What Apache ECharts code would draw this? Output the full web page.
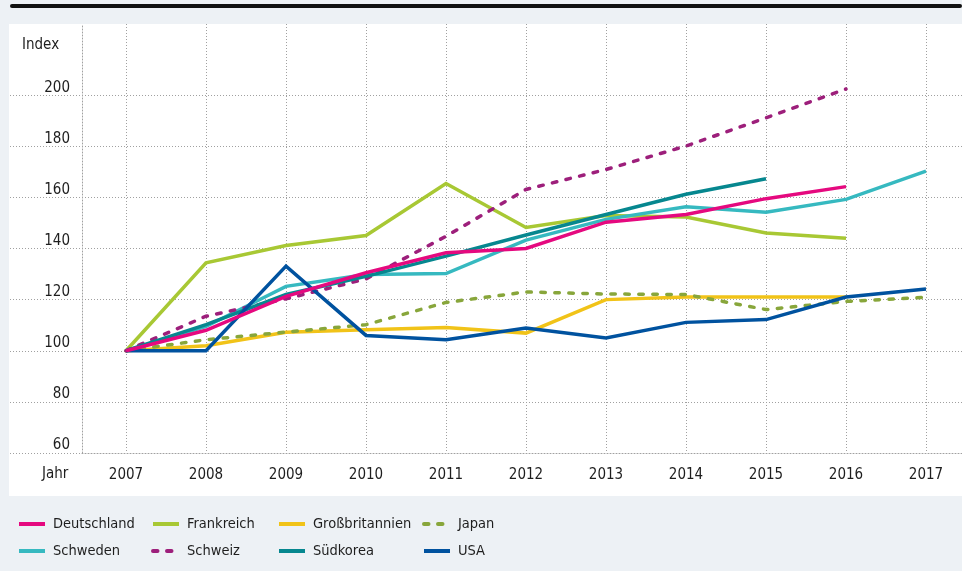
<!DOCTYPE html>
<html>
<head>
<meta charset="utf-8">
<script src="https://cdn.jsdelivr.net/npm/echarts@6/dist/echarts.min.js"></script>
<style>
html,body{margin:0;padding:0;background:#edf1f5;}
#c{width:962px;height:571px;}
</style>
</head>
<body>
<div id="c"></div>
<script>
const years = ['2007','2008','2009','2010','2011','2012','2013','2014','2015','2016','2017'];
const yTicks = [60, 80, 100, 120, 140, 160, 180, 200, 220];
const deutschland     = [100, 108, 121.3, 130.5, 138.3, 140, 150.3, 153.3, 159.5, 164.2, null];
const frankreich      = [100, 134.4, 141.2, 145.1, 165.4, 148.2, 152.9, 152.3, 146.1, 144.0, null];
const grossbritannien = [100, 102, 107.2, 108.2, 109.1, 106.9, 120, 121, 121, 121, null];
const japan           = [100, 104.3, 107.3, 110.2, 118.9, 123, 122.2, 122, 116.1, 119.3, 120.9];
const schweden        = [100, 109.5, 125.2, 129.8, 130.2, 143.3, 151.4, 156.3, 154.2, 159.2, 170.3];
const schweiz         = [100, 113.5, 120.3, 128.1, 144.8, 163.1, 170.9, 180.1, 191.1, 202.4, null];
const suedkorea       = [100, 110.2, 122, 129.1, 137, 145.3, 153.3, 161.2, 167.3, null, null];
const usa             = [100, 100, 133.1, 106, 104.3, 108.9, 105, 111.1, 112.2, 121, 124.2];

const FONT = '"Liberation Sans Narrow", "DejaVu Sans Condensed", "Roboto", sans-serif';
const TXT = '#1e1e1e';
const GRIDC = '#a0a0a0';
const DOT = [1, 2];

function line(name, data, color, dashed, z) {
  return {
    name, type: 'line', data, xAxisIndex: 0, yAxisIndex: 0,
    symbol: 'circle', symbolSize: 0, showSymbol: false, connectNulls: false, z: z,
    lineStyle: { color, width: 3.5, type: dashed ? [4.5, 9.5] : 'solid', cap: dashed ? 'round' : 'butt', join: 'miter' },
    itemStyle: { color }
  };
}

const chart = echarts.init(document.getElementById('c'), null, { renderer: 'canvas' });
const legendBase = {
  orient: 'vertical', top: 516, padding: 0, itemWidth: 26, itemHeight: 16, itemGap: 11,
  textStyle: { fontFamily: FONT, fontSize: 14.5, color: TXT, padding: [0, 0, 0, 3], lineHeight: 16 },
  lineStyle: { width: 4 },
  itemStyle: { opacity: 0 },
  selectedMode: false
};
chart.setOption({
  backgroundColor: '#edf1f5',
  animation: false,
  textStyle: { fontFamily: FONT },
  graphic: [
    { type: 'rect', z: -100, shape: { x: 9, y: 24, width: 953, height: 472 }, style: { fill: '#ffffff' } },
    { type: 'rect', z: -100, shape: { x: 10, y: 4, width: 952, height: 4, r: 2 }, style: { fill: '#111111' } }
  ],
  title: [
    { text: 'Index', left: 22, top: 38, padding: 0, textStyle: { fontFamily: FONT, fontSize: 15, fontWeight: 'normal', color: TXT } },
    { text: 'Jahr', left: 42, top: 467, padding: 0, textStyle: { fontFamily: FONT, fontSize: 15, fontWeight: 'normal', color: TXT } }
  ],
  legend: [
    Object.assign({}, legendBase, { left: 17, data: ['Deutschland', 'Schweden'] }),
    Object.assign({}, legendBase, { left: 151, data: ['Frankreich', 'Schweiz'] }),
    Object.assign({}, legendBase, { left: 277, data: ['Großbritannien', 'Südkorea'] }),
    Object.assign({}, legendBase, { left: 422, data: ['Japan', 'USA'] })
  ],
  grid: [
    { left: 126, right: 36, top: 44, bottom: 118 },   // data
    { left: 126, right: 36, top: 24, bottom: 118 },   // vertical grid lines
    { left: 10, right: 0, top: 44, bottom: 118 },     // horizontal grid lines
    { left: 82, right: 0, top: 44, bottom: 118 }      // top line at 220
  ],
  xAxis: [
    { gridIndex: 0, type: 'category', data: years, boundaryGap: false,
      axisLine: { show: false }, axisTick: { show: false }, splitLine: { show: false },
      axisLabel: { margin: 15, fontFamily: FONT, fontSize: 15, color: TXT } },
    { gridIndex: 1, type: 'category', data: years, boundaryGap: false,
      axisLine: { show: false }, axisTick: { show: false }, axisLabel: { show: false },
      splitLine: { show: true, lineStyle: { color: GRIDC, width: 1, type: DOT } } },
    { gridIndex: 2, type: 'value', show: false },
    { gridIndex: 3, type: 'value', position: 'top',
      axisLine: { show: true, lineStyle: { color: GRIDC, width: 1, type: DOT } },
      axisTick: { show: false }, axisLabel: { show: false }, splitLine: { show: false } }
  ],
  yAxis: [
    { gridIndex: 0, type: 'value', min: 60, max: 220, interval: 20,
      axisLine: { show: false }, axisTick: { show: false }, splitLine: { show: false },
      axisLabel: { margin: 56, fontFamily: FONT, fontSize: 15, color: TXT, verticalAlign: 'bottom', lineHeight: 15,
        showMaxLabel: false,
        formatter: v => (yTicks.indexOf(v) >= 0 && v !== 220 ? String(v) : '') } },
    { gridIndex: 1, type: 'value', min: 0, max: 1, offset: 44,
      axisLine: { show: true, lineStyle: { color: GRIDC, width: 1, type: DOT } },
      axisTick: { show: false }, axisLabel: { show: false }, splitLine: { show: false } },
    { gridIndex: 2, type: 'value', min: 60, max: 220, interval: 20,
      axisLine: { show: false }, axisTick: { show: false }, axisLabel: { show: false },
      splitLine: { show: true, showMaxLine: false, lineStyle: { color: GRIDC, width: 1, type: DOT } } },
    { gridIndex: 3, type: 'value', show: false }
  ],
  series: [
    line('Frankreich', frankreich, '#a8c834', false, 2),
    line('Großbritannien', grossbritannien, '#f1c318', false, 3),
    line('Japan', japan, '#88a63b', true, 4),
    line('Schweden', schweden, '#36b9c0', false, 5),
    line('Schweiz', schweiz, '#9d1f7b', true, 6),
    line('Südkorea', suedkorea, '#06878f', false, 7),
    line('USA', usa, '#00529f', false, 8),
    line('Deutschland', deutschland, '#e5097f', false, 9)
  ]
});
</script>
</body>
</html>
